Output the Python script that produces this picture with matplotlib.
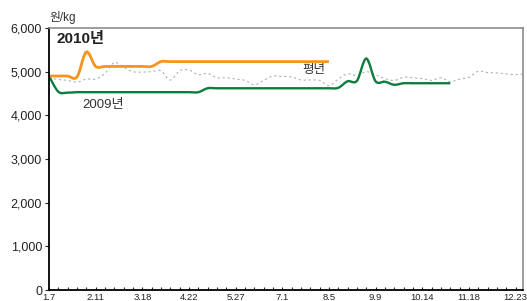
import numpy as np
import matplotlib
matplotlib.use("Agg")
import matplotlib.pyplot as plt
from matplotlib.path import Path
from matplotlib.patches import PathPatch

plt.rcParams['font.family'] = ['Liberation Sans', 'Noto Sans CJK KR', 'DejaVu Sans']

# 주간 데이터 (1.7 부터 1주 간격)
tick_labels = ["1.7", "2.11", "3.18", "4.22", "5.27", "7.1", "8.5", "9.9", "10.14", "11.18", "12.23"]

price_2010 = [4900, 4900, 4900, 4880, 5450, 5120, 5120, 5120, 5120, 5120,
              5120, 5120, 5230, 5230, 5230, 5230, 5230, 5230, 5230, 5230,
              5230, 5230, 5230, 5230, 5230, 5230, 5230, 5230, 5230, 5230, 5230]

price_2009 = [4900, 4540, 4520, 4530, 4530, 4530, 4530, 4530, 4530, 4530,
              4530, 4530, 4530, 4530, 4530, 4530, 4530, 4620, 4620, 4620,
              4620, 4620, 4620, 4620, 4620, 4620, 4620, 4620, 4620, 4620,
              4620, 4630, 4780, 4790, 5300, 4780, 4770, 4700, 4735, 4735,
              4735, 4735, 4735, 4735]

price_avg = [4860, 4820, 4800, 4760, 4830, 4830, 4960, 5210, 5100, 5000,
             4990, 5000, 5020, 4810, 5020, 5040, 4930, 4960, 4860, 4860,
             4830, 4800, 4700, 4800, 4900, 4890, 4880, 4810, 4810, 4800,
             4680, 4830, 4950, 4910, 5000, 4930, 4840, 4800, 4870, 4860,
             4840, 4800, 4860, 4770, 4830, 4870, 5010, 4980, 4970, 4950,
             4930, 4950]


def smooth_path(y):
    # 엑셀식 부드러운 선 (Catmull-Rom -> Bezier)
    x = np.arange(len(y), dtype=float)
    y = np.asarray(y, dtype=float)
    pts = np.column_stack([x, y])
    ext = np.vstack([pts[0], pts, pts[-1]])
    verts = [pts[0]]
    codes = [Path.MOVETO]
    for i in range(len(pts) - 1):
        p0, p1, p2, p3 = ext[i], ext[i + 1], ext[i + 2], ext[i + 3]
        verts += [p1 + (p2 - p0) / 6, p2 - (p3 - p1) / 6, p2]
        codes += [Path.CURVE4] * 3
    return Path(verts, codes)


fig = plt.figure(figsize=(5.27, 3.01), dpi=100)
ax = fig.add_axes([0.093, 0.0365, 0.8994, 0.8705])

ax.add_patch(PathPatch(smooth_path(price_avg), fill=False, edgecolor="#b0b0b0",
                       lw=0.8, linestyle=(0, (2, 2.5))))
ax.add_patch(PathPatch(smooth_path(price_2009), fill=False, edgecolor="#0b7d3e", lw=1.7))
ax.add_patch(PathPatch(smooth_path(price_2010), fill=False, edgecolor="#f7941d", lw=2.0))

ax.set_xlim(0, 50.8)
ax.set_ylim(0, 6000)

ax.set_yticks(range(0, 6001, 1000))
ax.set_yticklabels([f"{v:,}" for v in range(0, 6001, 1000)], fontsize=9)
ax.tick_params(axis='y', direction='out', length=3, width=0.8, pad=2, colors='#222222')

ax.set_xticks(range(0, 51, 5))
ax.set_xticklabels(tick_labels, fontsize=6.8)
ax.set_xticks(range(0, 51), minor=True)
ax.tick_params(axis='x', which='both', direction='in', length=2.5, width=0.8, pad=2, colors='#222222')

for s in ['left', 'bottom']:
    ax.spines[s].set_linewidth(1.3)
    ax.spines[s].set_color('black')
for s in ['top', 'right']:
    ax.spines[s].set_linewidth(1.2)
    ax.spines[s].set_color('#8c8c8c')

ax.text(0.1, 6250, "원/kg", fontsize=8.5, va='center', ha='left', clip_on=False, color='#333333')
ax.text(0.85, 5750, "2010년", fontsize=11, fontweight='bold', va='center', ha='left', color='#222222')
ax.text(3.6, 4230, "2009년", fontsize=9.5, va='center', ha='left', color='#333333')
ax.text(27.2, 5040, "평년", fontsize=9, va='center', ha='left', color='#333333')

fig.savefig("out.png", dpi=100)
